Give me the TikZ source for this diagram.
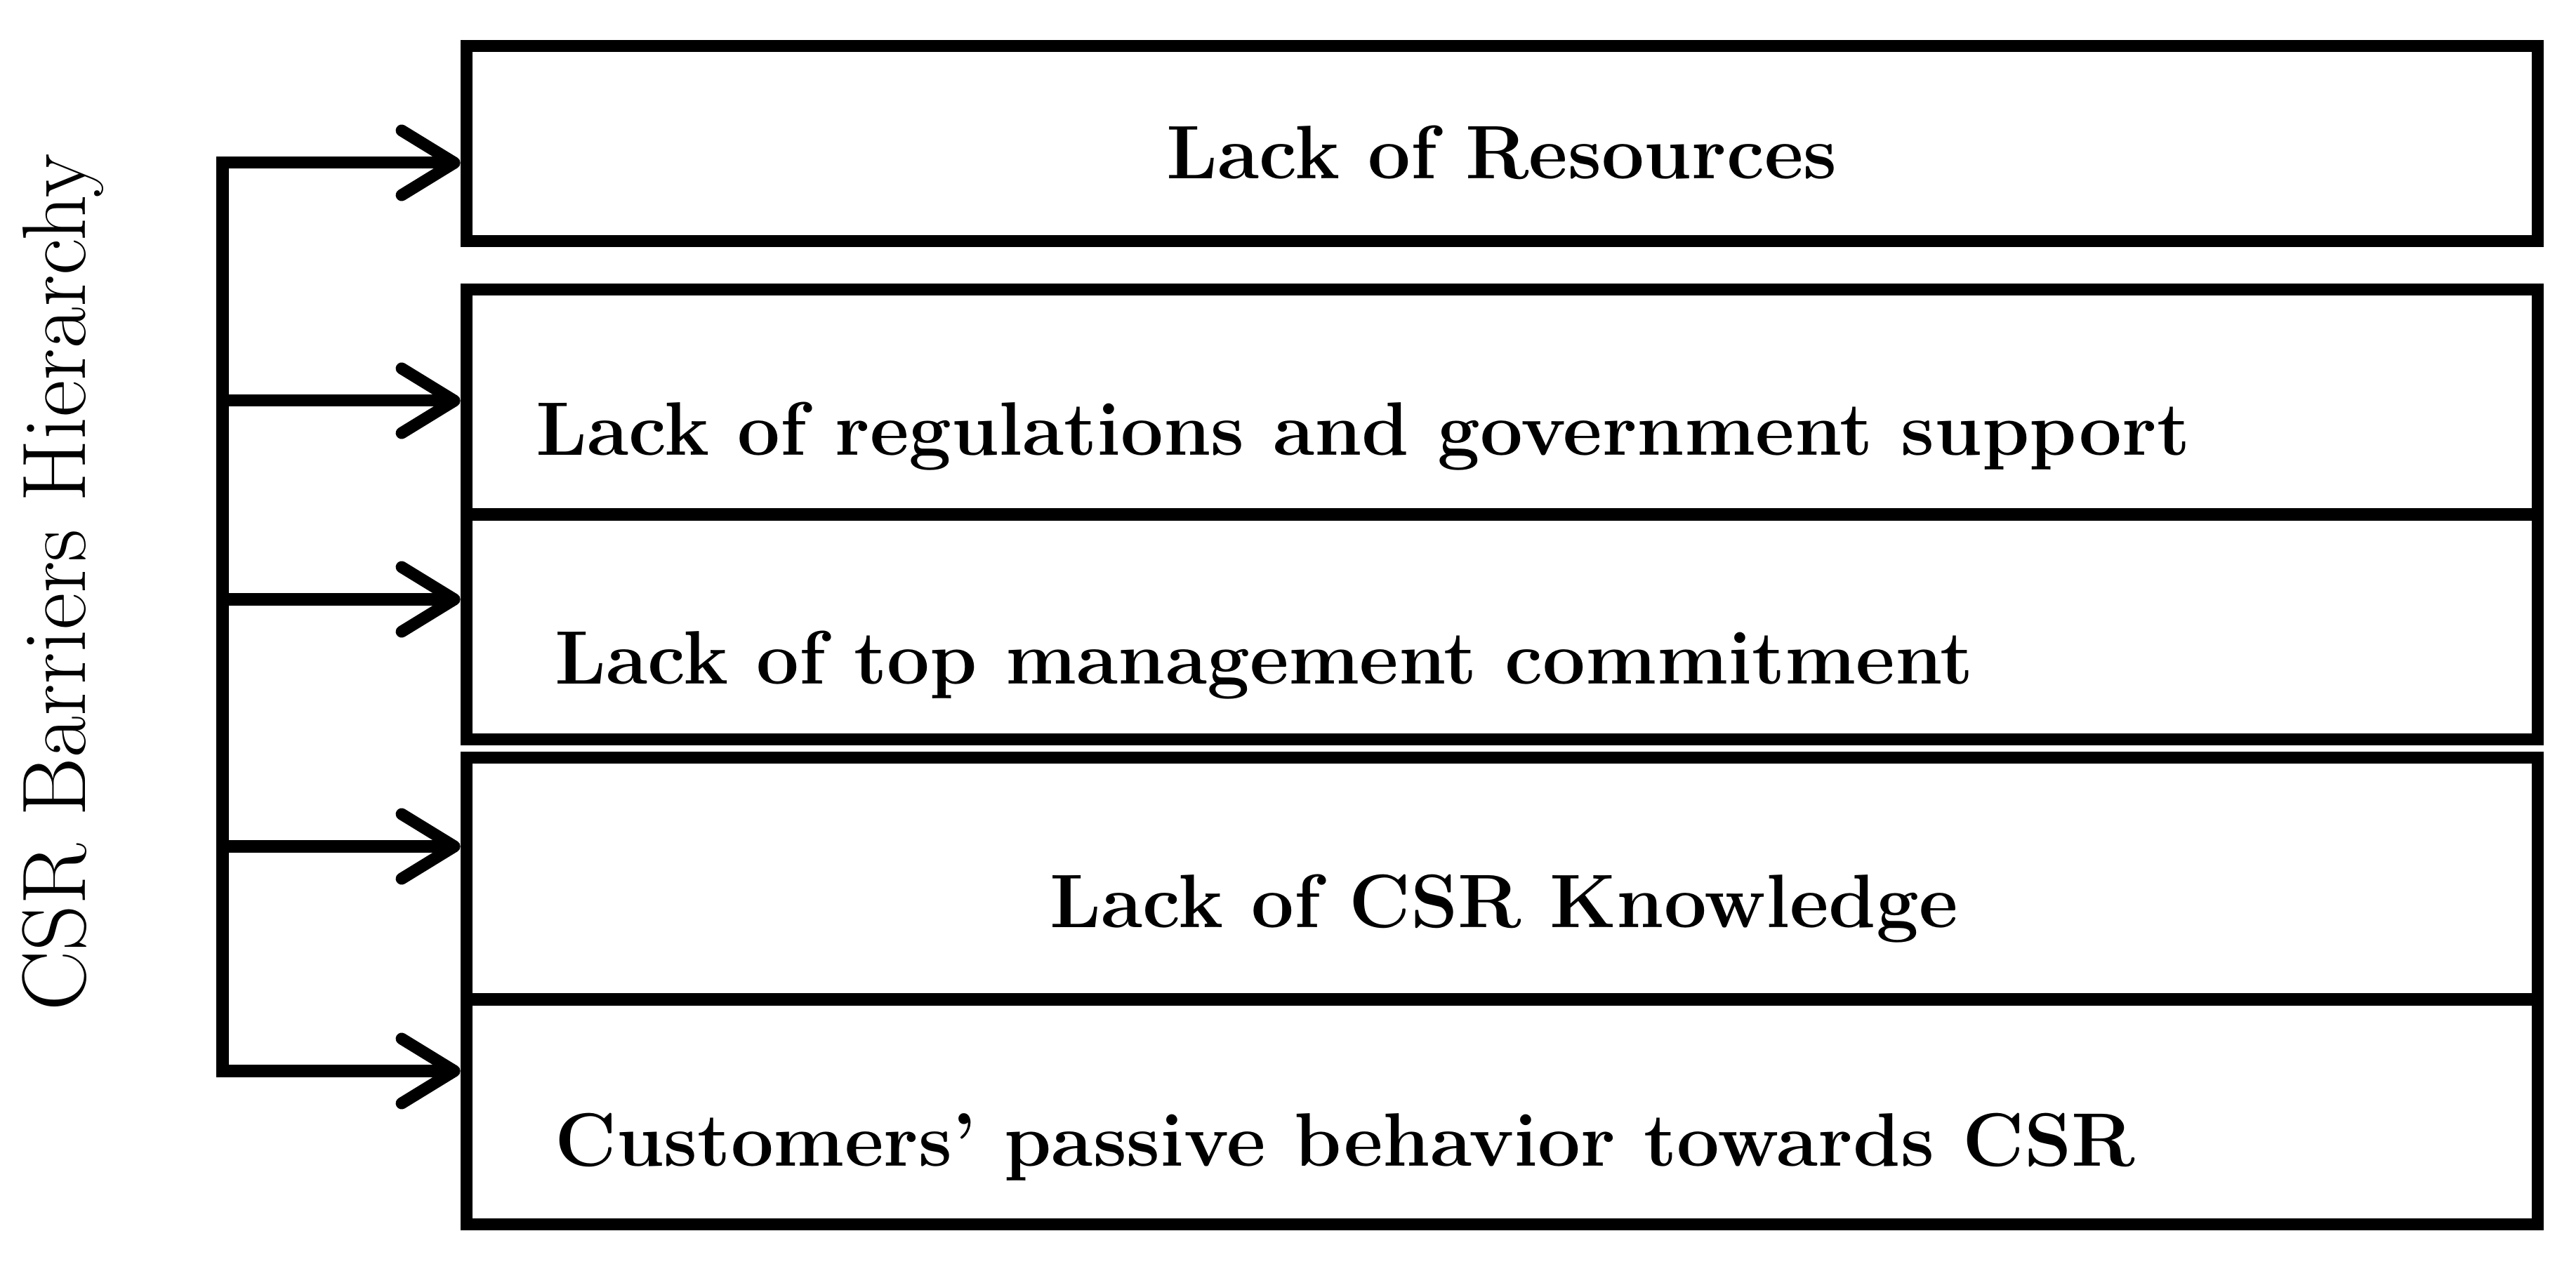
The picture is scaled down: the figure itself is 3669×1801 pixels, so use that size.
\documentclass[tikz,border=0pt]{standalone}
\usepackage{fontspec}
\usepackage{tikz}
\usetikzlibrary{arrows.meta}
\usetikzlibrary{calc}

\begin{document}
\begin{tikzpicture}[x=0.01cm,y=-0.01cm,
  barrier/.style={draw, rectangle, line width=0.17cm, minimum width=29.49cm, inner sep=0pt},
  bartext/.style={font=\fontsize{30.7}{36}\selectfont\bfseries, inner sep=0pt},
  arrowline/.style={line width=0.17cm, -{Straight Barb[length=0.75cm,width=0.92cm,round]}},
]
\useasboundingbox (0,0) rectangle (3669,1801);

\node[barrier, minimum height=2.77cm] (res) at (2139.5,204.5) {};
\node[barrier, minimum height=3.20cm] (reg) at (2139.5,573) {};
\node[barrier, minimum height=3.20cm] (top) at (2139.5,893) {};
\node[barrier, minimum height=3.44cm] (know) at (2139.5,1252) {};
\node[barrier, minimum height=3.20cm] (cust) at (2139.5,1584) {};

\node[bartext, anchor=base] (tres) at (2139,255) {Lack of Resources};
\node[bartext, anchor=base west] (treg) at (763,649) {Lack of regulations and government support};
\node[bartext, anchor=base west] (ttop) at (790,975) {Lack of top management commitment};
\node[bartext, anchor=base] (tknow) at (2142,1321) {Lack of CSR Knowledge};
\node[bartext, anchor=base west] (tcust) at (790,1661) {Customers’ passive behavior towards CSR};

\node[font=\fontsize{36.5}{42}\selectfont, rotate=90, anchor=base, inner sep=0pt] (title) at (121,830) {CSR Barriers Hierarchy};

\coordinate (t1) at (317,232);
\coordinate (t2) at (317,571);
\coordinate (t3) at (317,854);
\coordinate (t4) at (317,1206);
\coordinate (t5) at (317,1526);

\draw[line width=0.17cm, line cap=rect] (t1) -- (t5);
\draw[arrowline] (t1) -- (t1 -| res.west);
\draw[arrowline] (t2) -- (t2 -| reg.west);
\draw[arrowline] (t3) -- (t3 -| top.west);
\draw[arrowline] (t4) -- (t4 -| know.west);
\draw[arrowline] (t5) -- (t5 -| cust.west);
\end{tikzpicture}
\end{document}
